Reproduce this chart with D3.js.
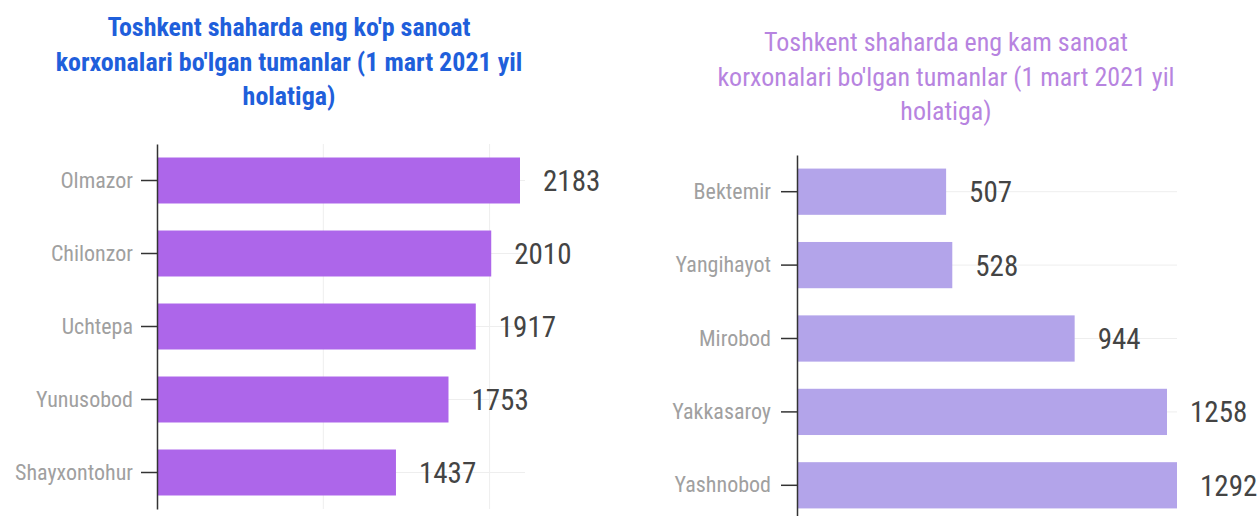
<!DOCTYPE html>
<html>
<head>
<meta charset="utf-8">
<script src="https://cdn.jsdelivr.net/npm/d3@7"></script>
<style>
  body { margin: 0; background: #fff; }
  svg { display: block; }
  .cond { font-family: "Roboto Condensed", "Liberation Sans Narrow", "DejaVu Sans Condensed", sans-serif; }
</style>
</head>
<body>
<div id="chart"></div>
<script>
// left chart: most enterprises
const topDistricts = ["Olmazor", "Chilonzor", "Uchtepa", "Yunusobod", "Shayxontohur"];
const topValues = [2183, 2010, 1917, 1753, 1437];
const topTitle = ["Toshkent shaharda eng ko'p sanoat", "korxonalari bo'lgan tumanlar (1 mart 2021 yil", "holatiga)"];

// right chart: fewest enterprises
const lowDistricts = ["Bektemir", "Yangihayot", "Mirobod", "Yakkasaroy", "Yashnobod"];
const lowValues = [507, 528, 944, 1258, 1292];
const lowTitle = ["Toshkent shaharda eng kam sanoat", "korxonalari bo'lgan tumanlar (1 mart 2021 yil", "holatiga)"];

const W = 1258, H = 516;
const svg = d3.select("#chart").append("svg")
    .attr("width", W)
    .attr("height", H);

function drawPanel(opts) {
  const data = opts.names.map((n, i) => ({name: n, value: opts.values[i]}));

  const x = d3.scaleLinear()
      .domain([0, d3.max(data, d => d.value)])
      .range([opts.x0, opts.x1]);

  const y = d3.scaleBand()
      .domain(opts.names)
      .range([opts.y0, opts.y1])
      .paddingInner(0.37)
      .paddingOuter(0.185);

  const g = svg.append("g");

  // title
  const t = g.append("text")
      .attr("class", "cond")
      .attr("text-anchor", "middle")
      .attr("font-size", opts.titleSize)
      .attr("font-weight", opts.titleWeight)
      .attr("fill", opts.titleColor);
  opts.title.forEach((line, i) => {
    t.append("tspan")
      .attr("x", opts.titleX)
      .attr("y", opts.titleY + i * 34.5)
      .text(line);
  });

  // grid: vertical lines
  g.selectAll(".vgrid")
    .data(opts.vgrid)
    .enter().append("line")
      .attr("x1", d => x(d)).attr("x2", d => x(d))
      .attr("y1", opts.y0).attr("y2", opts.y1)
      .attr("stroke", "#eeeeee")
      .attr("stroke-width", 1);

  // grid: horizontal lines at bar centres
  g.selectAll(".hgrid")
    .data(data)
    .enter().append("line")
      .attr("x1", opts.x0).attr("x2", opts.gridEnd)
      .attr("y1", d => y(d.name) + y.bandwidth() / 2)
      .attr("y2", d => y(d.name) + y.bandwidth() / 2)
      .attr("stroke", "#eeeeee")
      .attr("stroke-width", 1);

  // bars
  g.selectAll(".bar")
    .data(data)
    .enter().append("rect")
      .attr("x", x(0))
      .attr("y", d => y(d.name))
      .attr("width", d => x(d.value) - x(0))
      .attr("height", y.bandwidth())
      .attr("fill", opts.barColor);

  // value labels
  g.selectAll(".val")
    .data(data)
    .enter().append("text")
      .attr("class", "cond")
      .attr("x", d => x(d.value) + 23)
      .attr("y", d => y(d.name) + y.bandwidth() / 2)
      .attr("dy", "0.36em")
      .attr("font-size", 29)
      .attr("fill", "#444444")
      .text(d => d.value);

  // y axis
  const axis = g.append("g")
      .attr("transform", "translate(" + opts.x0 + ",0)")
      .call(d3.axisLeft(y).tickSize(16).tickSizeOuter(0).tickPadding(opts.tickPad));
  axis.select(".domain").attr("stroke", "#333").attr("stroke-width", 1.5);
  axis.selectAll(".tick line").attr("stroke", "#333").attr("stroke-width", 1.5);
  axis.selectAll(".tick text")
      .attr("class", "cond")
      .attr("font-size", 22)
      .attr("fill", "#a0a0a0");
}

drawPanel({
  names: topDistricts, values: topValues, title: topTitle,
  x0: 157, x1: 520, y0: 144, y1: 509, gridEnd: 525,
  vgrid: [1000, 2000], tickPad: 8,
  titleX: 289, titleY: 36, titleSize: 26, titleWeight: "bold", titleColor: "#1f5fdb",
  barColor: "#ad66ea"
});

drawPanel({
  names: lowDistricts, values: lowValues, title: lowTitle,
  x0: 797, x1: 1177, y0: 155, y1: 522, gridEnd: 1177,
  vgrid: [], tickPad: 10,
  titleX: 946, titleY: 51, titleSize: 26, titleWeight: "normal", titleColor: "#b784e0",
  barColor: "#b3a4ea"
});
</script>
</body>
</html>
